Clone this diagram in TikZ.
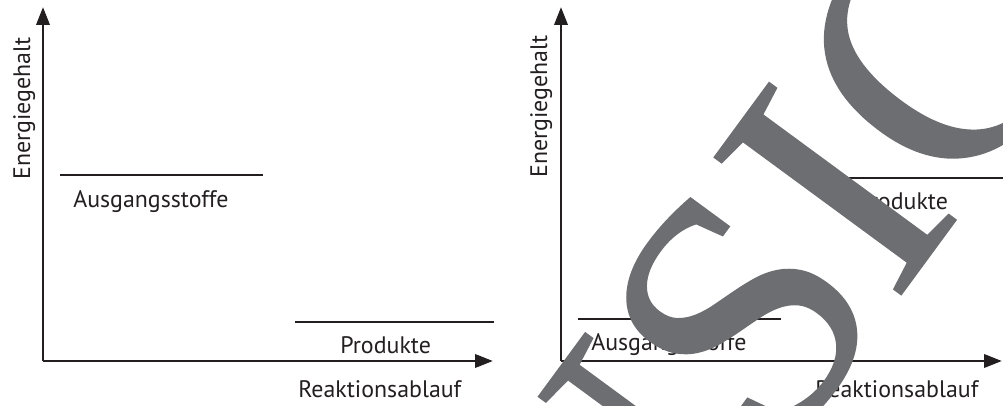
\documentclass[tikz,border=0pt]{standalone}
\usepackage{fontspec}
\setmainfont{PT Sans}
\newfontfamily\wmfont[FakeBold=0.4]{Liberation Serif}
\usetikzlibrary{arrows.meta}
\definecolor{ink}{HTML}{231F20}
\definecolor{wmgray}{HTML}{6D6E71}
\begin{document}
\begin{tikzpicture}[every node/.style={inner sep=0pt,text=ink,font=\fontsize{17}{20}\selectfont}]
        \tikzset{axis/.style = {-{Triangle[length=4.5mm,width=3.3mm]}, line width=2.1pt, draw=ink}}
        \tikzset{level/.style = {line width=1.3pt, draw=ink}}
        \useasboundingbox (0,0) rectangle (25.075,10.125);

        % left: exotherm
        \coordinate (O1) at (1.075,1.1);
        \coordinate (Y1) at (1.075,9.95);
        \coordinate (X1) at (12.325,1.1);
        \coordinate (A1l) at (1.5,5.75);
        \coordinate (A1r) at (6.575,5.75);
        \coordinate (P1l) at (7.375,2.075);
        \coordinate (P1r) at (12.35,2.075);
        \node[anchor=base west] (aus1) at (1.825,4.925) {Ausgangsstoffe};
        \node[anchor=base west] (pro1) at (8.5,1.3) {Produkte};
        \node[anchor=base west] (rea1) at (7.45,0.2) {Reaktionsablauf};
        \node[anchor=base west, rotate=90] (ene1) at (0.75,5.625) {Energiegehalt};

        \draw[axis] (O1) -- (Y1);
        \draw[axis] (O1) -- (X1);
        \draw[level] (A1l) -- (A1r);
        \draw[level] (P1l) -- (P1r);

        % right: endotherm
        \coordinate (O2) at (14.025,1.1);
        \coordinate (Y2) at (14.025,9.95);
        \coordinate (X2) at (25.05,1.1);
        \coordinate (A2l) at (14.45,2.15);
        \coordinate (A2r) at (19.525,2.15);
        \coordinate (P2l) at (21.075,5.675);
        \coordinate (P2r) at (25.075,5.675);
        \node[anchor=base west] (aus2) at (14.775,1.375) {Ausgangsstoffe};
        \node[anchor=base west] (pro2) at (21.425,4.9) {Produkte};
        \node[anchor=base west] (rea2) at (20.375,0.2) {Reaktionsablauf};
        \node[anchor=base west, rotate=90] (ene2) at (13.675,5.675) {Energiegehalt};

        \draw[axis] (O2) -- (Y2);
        \draw[axis] (O2) -- (X2);
        \draw[level] (A2l) -- (A2r);
        \draw[level] (P2l) -- (P2r);

        % watermark
        \begin{scope}
        \clip (0,0) rectangle (25.075,10.125);
        \node[anchor=base west, rotate=53.7, text=wmgray, font=\wmfont\fontsize{252}{252}\selectfont] (wm) at (11.85,-11.78) {ANSICHT};
        \end{scope}
\end{tikzpicture}
\end{document}
